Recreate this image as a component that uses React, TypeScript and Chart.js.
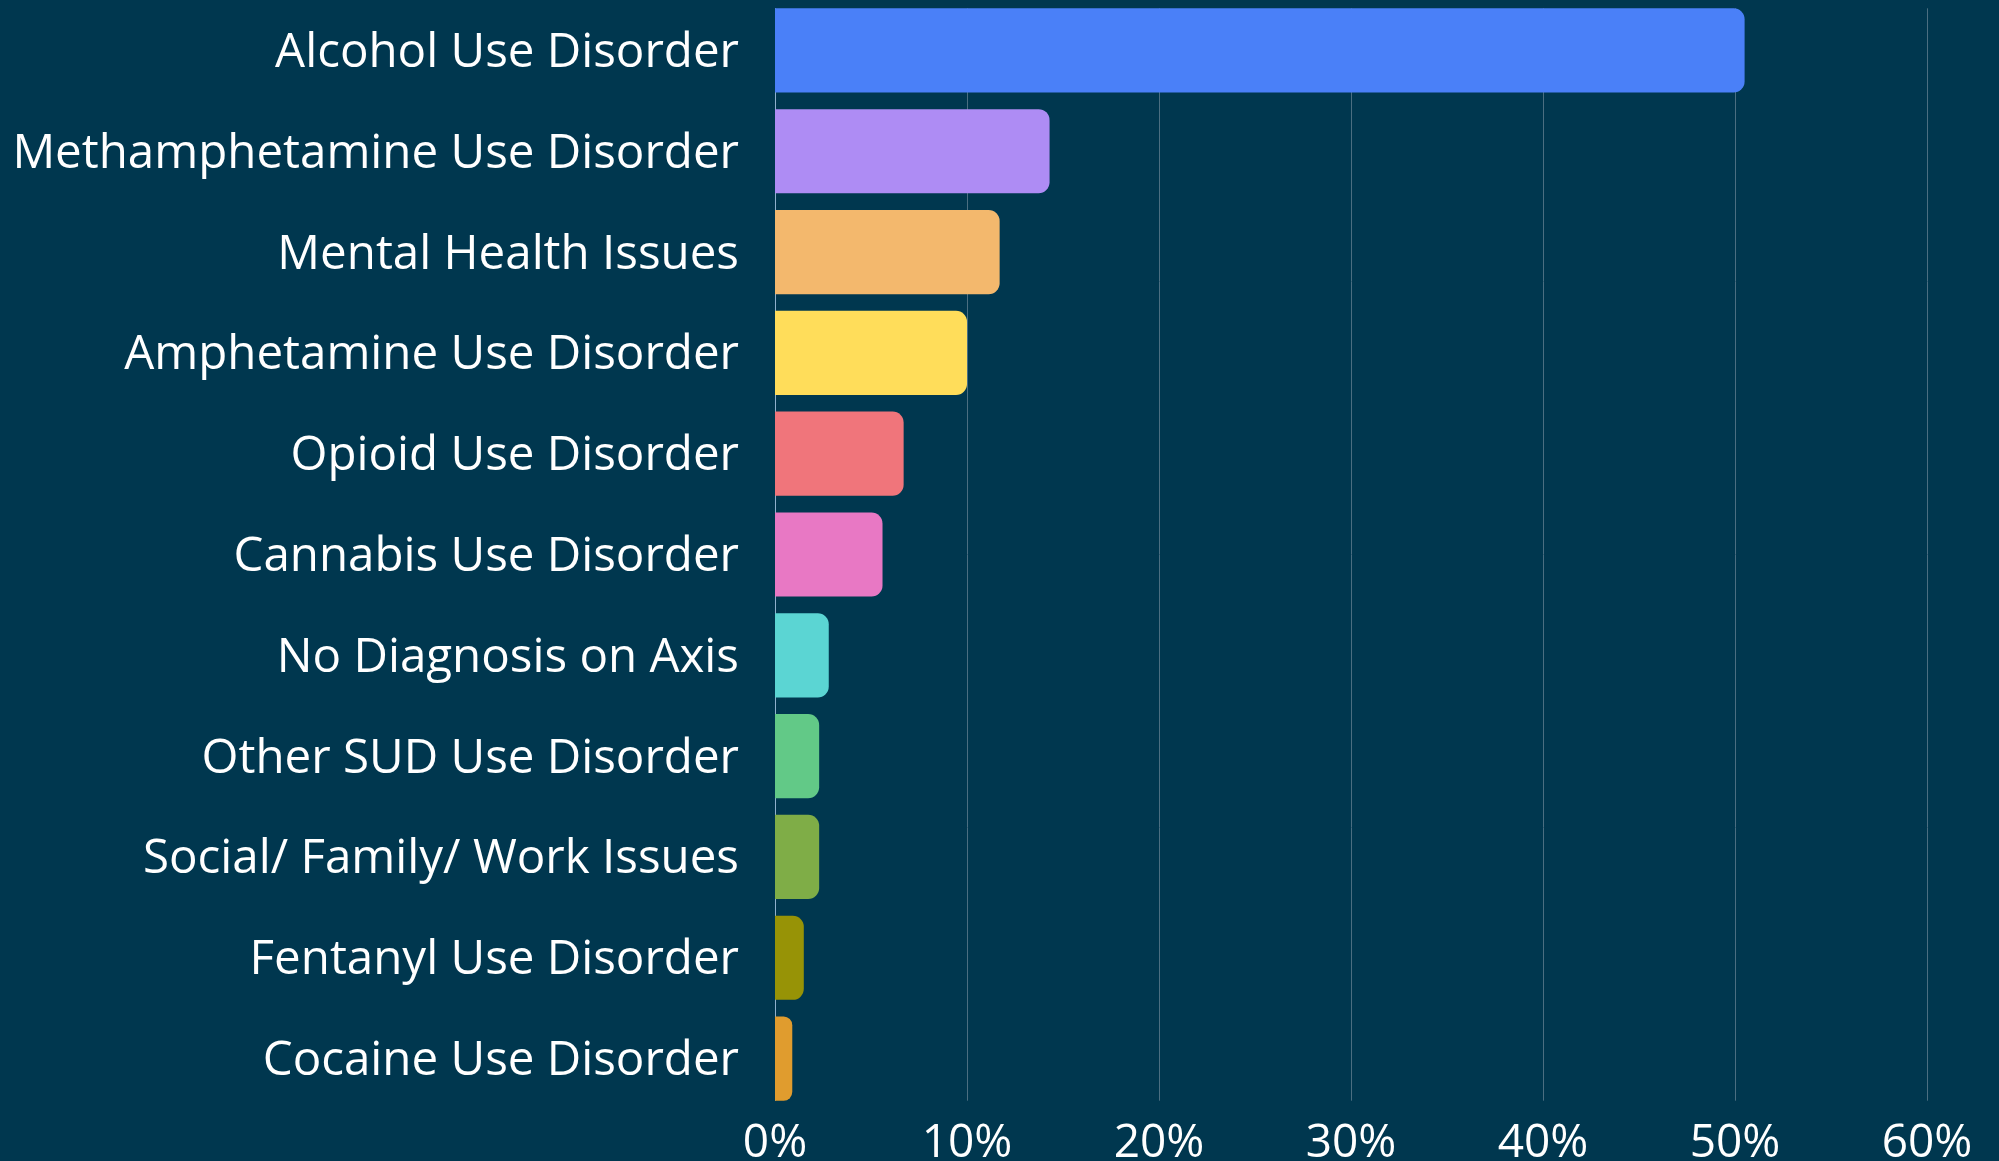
import React, { useEffect, useRef } from "react";
import { Chart, registerables } from "chart.js";

Chart.register(...registerables);

const categories = [
  "Alcohol Use Disorder",
  "Methamphetamine Use Disorder",
  "Mental Health Issues",
  "Amphetamine Use Disorder",
  "Opioid Use Disorder",
  "Cannabis Use Disorder",
  "No Diagnosis on Axis",
  "Other SUD Use Disorder",
  "Social/ Family/ Work Issues",
  "Fentanyl Use Disorder",
  "Cocaine Use Disorder",
];

const values = [50.5, 14.3, 11.7, 10.0, 6.7, 5.6, 2.8, 2.3, 2.3, 1.5, 0.9];

const barColors = [
  "#4a80f8",
  "#ae8cf4",
  "#f3b86d",
  "#ffdd5a",
  "#f0757b",
  "#e878c4",
  "#5bd5d3",
  "#62c987",
  "#7fad47",
  "#979306",
  "#e09c2e",
];

const xMax = 60;
const xStep = 10;

const BG = "#00374f";
const FONT = "'Open Sans', sans-serif";

const gridPlugin = {
  id: "barGrid",
  beforeDatasetsDraw(chart: any) {
    const meta = chart.getDatasetMeta(0);
    const els = meta.data;
    if (!els || !els.length) return;
    const first = els[0];
    const last = els[els.length - 1];
    const top = first.y - first.height / 2;
    const bottom = last.y + last.height / 2;
    const xs = chart.scales.x;
    const ctx = chart.ctx;
    ctx.save();
    ctx.lineWidth = 1;
    xs.ticks.forEach((t: any) => {
      const px = Math.round(xs.getPixelForValue(t.value)) + 0.5;
      ctx.strokeStyle = t.value === 0 ? "#8fb0cc" : "#4b6e81";
      ctx.beginPath();
      ctx.moveTo(px, top);
      ctx.lineTo(px, bottom);
      ctx.stroke();
    });
    ctx.restore();
  },
};

export default function App() {
  const ref = useRef<HTMLCanvasElement>(null);
  useEffect(() => {
    document.body.style.margin = "0";
    document.body.style.background = BG;
    const chart = new Chart(ref.current!, {
      type: "bar",
      data: {
        labels: categories,
        datasets: [
          {
            data: values,
            backgroundColor: barColors,
            borderRadius: 11,
            borderSkipped: "start",
            categoryPercentage: 1,
            barPercentage: 0.835,
          },
        ],
      },
      options: {
        indexAxis: "y",
        responsive: false,
        animation: false,
        layout: { padding: { top: 0, right: 72, bottom: 0, left: 0 } },
        plugins: { legend: { display: false }, tooltip: { enabled: false } },
        scales: {
          x: {
            min: 0,
            max: xMax,
            grid: { display: false, drawTicks: false },
            border: { display: false },
            ticks: {
              stepSize: xStep,
              color: "#ffffff",
              padding: 7,
              maxRotation: 0,
              font: { family: FONT, size: 46 },
              callback: (v: any) => v + "%",
            },
            afterFit: (s: any) => {
              s.height = 52;
            },
          },
          y: {
            grid: { display: false, drawTicks: false },
            border: { display: false },
            ticks: {
              color: "#ffffff",
              padding: 36,
              labelOffset: 3,
              font: { family: FONT, size: 47.5 },
            },
            afterFit: (s: any) => {
              s.width = 775;
              s.paddingTop = 0;
              s.paddingBottom = 0;
            },
          },
        },
      },
      plugins: [gridPlugin],
    });
    return () => chart.destroy();
  }, []);
  return (
    <div style={{ width: 1999, height: 1161, background: BG }}>
      <canvas ref={ref} width={1999} height={1161} />
    </div>
  );
}
